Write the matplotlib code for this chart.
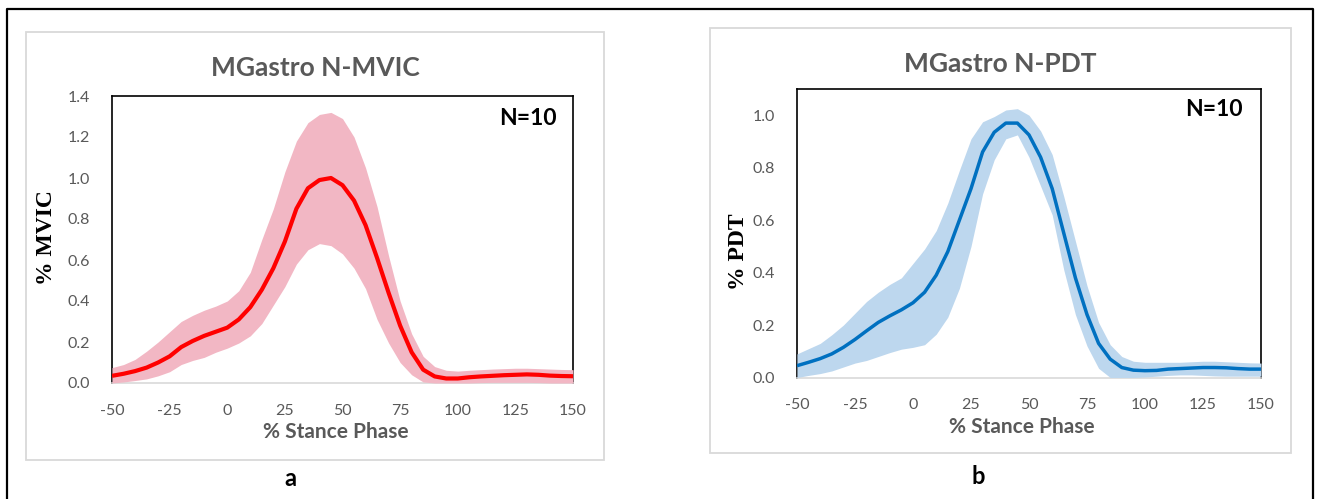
import numpy as np
import matplotlib
matplotlib.use("Agg")
import matplotlib.pyplot as plt
from matplotlib.patches import Rectangle
from matplotlib.lines import Line2D

# % stance phase sample points
stance = [-50, -45, -40, -35, -30, -25, -20, -15, -10, -5, 0, 5, 10, 15, 20, 25, 30,
          35, 40, 45, 50, 55, 60, 65, 70, 75, 80, 85, 90, 95, 100, 105, 110, 115,
          120, 125, 130, 135, 140, 145, 150]

# Medial gastrocnemius normalised to MVIC: mean and +/- SD envelope
mvic_mean = [0.035, 0.045, 0.058, 0.075, 0.10, 0.13, 0.175, 0.205, 0.23, 0.25, 0.27,
             0.31, 0.37, 0.455, 0.56, 0.69, 0.85, 0.95, 0.99, 1.00, 0.965, 0.89, 0.77,
             0.61, 0.44, 0.28, 0.15, 0.065, 0.032, 0.022, 0.022, 0.028, 0.032, 0.035,
             0.038, 0.040, 0.042, 0.040, 0.036, 0.034, 0.033]
mvic_upper = [0.075, 0.09, 0.115, 0.155, 0.20, 0.25, 0.30, 0.33, 0.355, 0.375, 0.40,
              0.45, 0.54, 0.70, 0.85, 1.03, 1.18, 1.27, 1.31, 1.32, 1.29, 1.20, 1.05,
              0.86, 0.62, 0.40, 0.24, 0.13, 0.08, 0.062, 0.058, 0.062, 0.065, 0.068,
              0.07, 0.072, 0.072, 0.07, 0.068, 0.066, 0.065]
mvic_lower = [0.0, 0.005, 0.012, 0.02, 0.035, 0.055, 0.09, 0.11, 0.125, 0.15, 0.17,
              0.195, 0.23, 0.29, 0.38, 0.47, 0.58, 0.65, 0.68, 0.67, 0.63, 0.56, 0.46,
              0.31, 0.195, 0.10, 0.04, 0.005, 0.0, 0.0, 0.0, 0.0, 0.002, 0.003,
              0.003, 0.003, 0.003, 0.002, 0.0, 0.0, 0.0]

# Medial gastrocnemius normalised to peak dynamic task: mean and +/- SD envelope
pdt_mean = [0.045, 0.058, 0.072, 0.09, 0.115, 0.145, 0.178, 0.21, 0.235, 0.258, 0.285,
            0.325, 0.39, 0.48, 0.60, 0.72, 0.86, 0.935, 0.97, 0.97, 0.925, 0.84, 0.72,
            0.55, 0.38, 0.24, 0.13, 0.07, 0.038, 0.028, 0.026, 0.027, 0.032, 0.034,
            0.036, 0.038, 0.038, 0.037, 0.034, 0.032, 0.032]
pdt_upper = [0.09, 0.11, 0.13, 0.163, 0.20, 0.245, 0.29, 0.325, 0.355, 0.38, 0.435,
             0.49, 0.56, 0.665, 0.79, 0.91, 0.975, 0.995, 1.02, 1.025, 1.00, 0.94, 0.85,
             0.69, 0.52, 0.35, 0.21, 0.125, 0.08, 0.062, 0.058, 0.058, 0.058, 0.058,
             0.06, 0.062, 0.062, 0.06, 0.058, 0.056, 0.055]
pdt_lower = [0.0, 0.008, 0.015, 0.025, 0.04, 0.055, 0.065, 0.08, 0.095, 0.108, 0.115,
             0.125, 0.165, 0.23, 0.34, 0.50, 0.70, 0.83, 0.91, 0.925, 0.84, 0.73, 0.62,
             0.41, 0.24, 0.12, 0.035, 0.0, 0.0, 0.0, 0.002, 0.005, 0.008, 0.01,
             0.01, 0.008, 0.006, 0.005, 0.005, 0.005, 0.005]

x_ticks = [-50, -25, 0, 25, 50, 75, 100, 125, 150]
mvic_yticks = [0.0, 0.2, 0.4, 0.6, 0.8, 1.0, 1.2, 1.4]
pdt_yticks = [0.0, 0.2, 0.4, 0.6, 0.8, 1.0]

W, H = 1317, 499
fig = plt.figure(figsize=(W / 100, H / 100), dpi=100)
fig.patch.set_facecolor("white")

SANS = ["Lato", "DejaVu Sans"]
SERIF = ["Liberation Serif", "DejaVu Serif"]
GREY = "#595959"


def fx(px):
    return px / W


def fy(py):
    return 1 - py / H


# outer frame (left, top, right edges)
fig.add_artist(Line2D([fx(7), fx(7), fx(1313), fx(1313)],
                      [0, fy(9), fy(9), 0], color="black", lw=1.6,
                      transform=fig.transFigure))

# light chart-area boxes
for (x0, y0, x1, y1) in [(26, 32, 604, 460), (710, 28, 1291, 453)]:
    fig.add_artist(Rectangle((fx(x0), fy(y1)), fx(x1) - fx(x0), fy(y0) - fy(y1),
                             transform=fig.transFigure, fill=False,
                             edgecolor="#D9D9D9", lw=1.3))


def panel(rect_px, mean, upper, lower, yticks, ymax, line_c, band_c, lw):
    x0, y0, x1, y1 = rect_px
    ax = fig.add_axes([fx(x0), fy(y1), fx(x1) - fx(x0), fy(y0) - fy(y1)])
    ax.fill_between(stance, lower, upper, color=band_c, lw=0, zorder=1)
    ax.plot(stance, mean, color=line_c, lw=lw, zorder=2,
            solid_capstyle="butt", solid_joinstyle="round")
    ax.set_xlim(-50, 150)
    ax.set_ylim(0, ymax)
    ax.set_xticks(x_ticks)
    ax.set_xticklabels([str(t) for t in x_ticks])
    ax.set_yticks(yticks)
    ax.set_yticklabels([f"{t:.1f}" for t in yticks])
    ax.tick_params(length=0, labelsize=11.5, labelcolor=GREY, pad=16)
    ax.tick_params(axis="x", pad=15)
    for lab in ax.get_xticklabels() + ax.get_yticklabels():
        lab.set_family(SANS)
    for s in ["top", "left", "right"]:
        ax.spines[s].set_color("black")
        ax.spines[s].set_linewidth(1.2)
        ax.spines[s].set_zorder(0.5)
    ax.spines["bottom"].set_color("#D9D9D9")
    ax.spines["bottom"].set_linewidth(1.2)
    ax.spines["bottom"].set_zorder(0.5)
    return ax


panel((112, 96, 573, 383), mvic_mean, mvic_upper, mvic_lower, mvic_yticks, 1.4,
      "#FF0000", "#F2B7C4", 3.0)
panel((797, 89, 1261, 377.5), pdt_mean, pdt_upper, pdt_lower, pdt_yticks, 1.1,
      "#0070C0", "#BDD7EE", 2.5)

# titles
fig.text(fx(315), fy(67.5), "MGastro N-MVIC", ha="center", va="center",
         fontsize=19, fontweight="bold", color=GREY, family=SANS)
fig.text(fx(1000), fy(63.5), "MGastro N-PDT", ha="center", va="center",
         fontsize=19, fontweight="bold", color=GREY, family=SANS)

# sample size annotations
fig.text(fx(557), fy(118.7), "N=10", ha="right", va="center",
         fontsize=16.5, fontweight="bold", color="black", family=SANS)
fig.text(fx(1243), fy(110), "N=10", ha="right", va="center",
         fontsize=16.5, fontweight="bold", color="black", family=SANS)

# x axis titles
fig.text(fx(336), fy(431.7), "% Stance Phase", ha="center", va="center",
         fontsize=15, fontweight="bold", color=GREY, family=SANS)
fig.text(fx(1022), fy(426.7), "% Stance Phase", ha="center", va="center",
         fontsize=15, fontweight="bold", color=GREY, family=SANS)

# y axis titles
fig.text(fx(47), fy(237.5), "% MVIC", ha="center", va="center", rotation=90,
         fontsize=17, fontweight="bold", color="black", family=SERIF)
fig.text(fx(738), fy(251.7), "% PDT", ha="center", va="center", rotation=90,
         fontsize=17, fontweight="bold", color="black", family=SERIF)

# panel letters
fig.text(fx(290), fy(478), "a", ha="center", va="center",
         fontsize=17, fontweight="bold", color="black", family=SANS)
fig.text(fx(978), fy(477), "b", ha="center", va="center",
         fontsize=17, fontweight="bold", color="black", family=SANS)

fig.savefig("out.png", dpi=100, facecolor="white")
